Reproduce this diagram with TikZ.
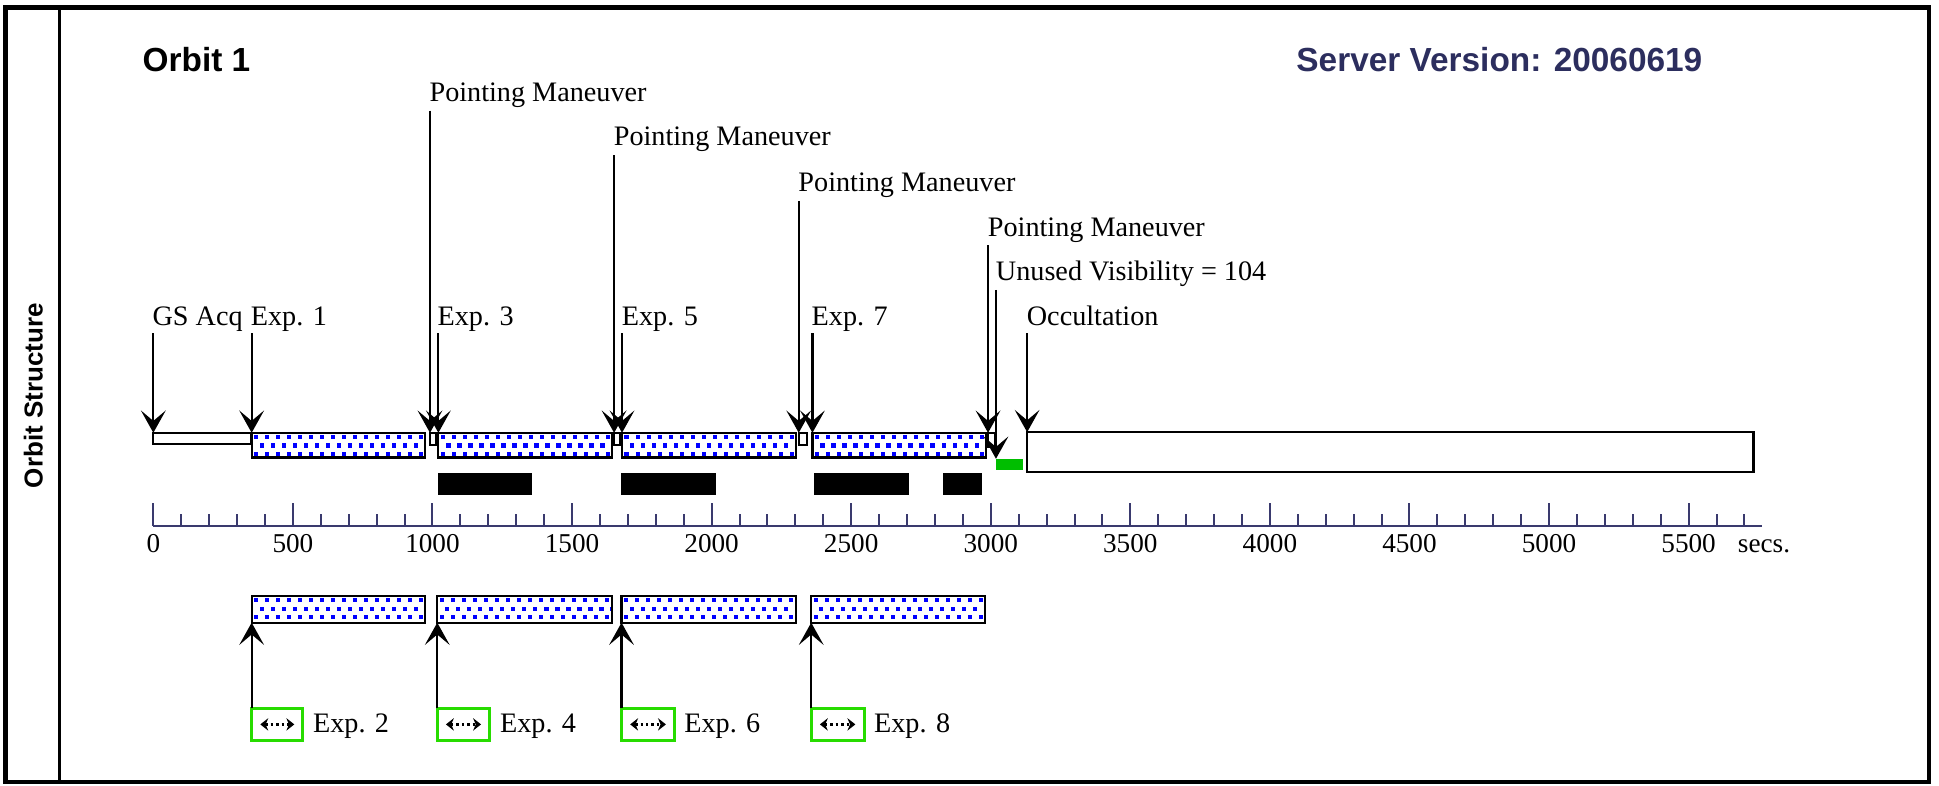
\documentclass[tikz,border=0pt]{standalone}
\usepackage{fontspec}
\setmainfont{Liberation Serif}
\newfontfamily\hsans{Liberation Sans}
\usetikzlibrary{arrows.meta}
\definecolor{navy}{RGB}{44,46,94}
\definecolor{axisc}{RGB}{58,58,110}
\definecolor{barg}{RGB}{0,190,0}
\definecolor{icong}{RGB}{40,220,0}
\newcommand\boxat[6]{\node[#1, minimum width={(#5-#3)*0.5pt}, minimum height={(#6-#4)*0.5pt}] (#2) at (#3,#4) {};}
\tikzset{
  lbl/.style={anchor=base west, inner sep=0pt, font=\fontsize{11.4}{13}\selectfont},
  axlbl/.style={anchor=base, inner sep=0pt, font=\fontsize{11}{13}\selectfont},
  rbox/.style={draw, line width=0.9pt, fill=white, inner sep=0pt, outer sep=0pt, anchor=north west},
  dbox/.style={rbox, path picture={
     \foreach \r/\o in {0/0,1/4.45,2/0}{
       \foreach \k in {0,...,16}{
         \fill[blue] ([xshift={(2+\o+\k*8.9)*0.5pt}, yshift={-(1.8+\r*6.7)*0.5pt}]path picture bounding box.north west) rectangle ++(3.4,3.4);
       }}}},
  bbar/.style={fill=black, inner sep=0pt, outer sep=0pt, anchor=north west},
  gbar/.style={fill=barg, inner sep=0pt, outer sep=0pt, anchor=north west},
  icon/.style={draw=icong, line width=1.2pt, fill=white, inner sep=0pt, outer sep=0pt, anchor=north west},
  arr/.style={line width=0.9pt, -{Stealth[length=9pt,width=10pt,inset=4.2pt]}},
  dblarr/.style={line width=1.2pt, dash pattern=on 1pt off 1.2pt,
     {Stealth[length=3.2pt,width=5pt]}-{Stealth[length=3.2pt,width=5pt]}},
  tick/.style={axisc, line width=0.8pt}
}
\begin{document}
\begin{tikzpicture}[x=0.5pt,y=-0.5pt]
\fill[white] (0,0) rectangle (1568,635);
\useasboundingbox (0,0) rectangle (1568,635);
% frame
\draw[line width=1.7pt] (4.5,6) rectangle (1560,632.5);
\draw[line width=1.2pt] (48,6) -- (48,632.5);
\node[rotate=90, inner sep=0pt, font=\hsans\bfseries\fontsize{10.5}{12}\selectfont] (side) at (27,320) {Orbit Structure};
\node[anchor=base west, inner sep=0pt, font=\hsans\bfseries\fontsize{13.5}{15}\selectfont] (title) at (115,58) {Orbit 1};
\node[anchor=base west, inner sep=0pt, text=navy, font=\hsans\bfseries\fontsize{13.5}{15}\selectfont] (server) at (1048,58) {Server Version: 20060619};

% top row boxes
\boxat{rbox}{gs}{124}{350}{203}{359.3}
\boxat{dbox}{e1}{203.5}{350}{343.7}{370}
\boxat{rbox}{m1}{347.7}{350}{352.3}{360}
\boxat{dbox}{e3}{354.5}{350}{495}{370}
\boxat{rbox}{m2}{496.6}{350}{501.4}{360}
\boxat{dbox}{e5}{503}{350}{643.7}{370}
\boxat{rbox}{m3}{645.9}{350}{652.6}{360}
\boxat{dbox}{e7}{657}{350}{797.3}{370}
\boxat{rbox}{m4}{799}{350}{804.6}{361}
\boxat{gbar}{uv}{805.4}{371}{827.3}{380}
\boxat{rbox}{occ}{830.6}{349.5}{1418}{381.5}

% black bars
\boxat{bbar}{b1}{354}{382.5}{430}{400}
\boxat{bbar}{b2}{502.5}{382.5}{579}{400}
\boxat{bbar}{b3}{658}{382.5}{735}{400}
\boxat{bbar}{b4}{762.5}{382.5}{793.8}{400}

% labels of top row
\node[lbl] (lgs) at (123,263) {GS Acq};
\node[lbl] (le1) at (202.5,263) {Exp. 1};
\node[lbl] (lp1) at (347,82) {Pointing Maneuver};
\node[lbl] (le3) at (353.5,263) {Exp. 3};
\node[lbl] (lp2) at (496,118) {Pointing Maneuver};
\node[lbl] (le5) at (502.5,263) {Exp. 5};
\node[lbl] (lp3) at (645.3,155) {Pointing Maneuver};
\node[lbl] (le7) at (656,263) {Exp. 7};
\node[lbl] (lp4) at (798.5,191) {Pointing Maneuver};
\node[lbl] (luv) at (805,227) {Unused Visibility = 104};
\node[lbl] (loc) at (830,263) {Occultation};

% arrow tails
\coordinate (tgs) at (124,269.5);
\coordinate (te1) at (203.5,269.5);
\coordinate (tp1) at (347.7,89.5);
\coordinate (te3) at (354.5,269.5);
\coordinate (tp2) at (496.6,125.5);
\coordinate (te5) at (503,269.5);
\coordinate (tp3) at (645.9,162.5);
\coordinate (te7) at (657,269.5);
\coordinate (tp4) at (799,198.5);
\coordinate (tuv) at (805.4,234.5);
\coordinate (toc) at (830.6,269.5);
\draw[arr] (tgs) -- (gs.north west);
\draw[arr] (te1) -- (e1.north west);
\draw[arr] (tp1) -- (m1.north west);
\draw[arr] (te3) -- (e3.north west);
\draw[arr] (tp2) -- (m2.north west);
\draw[arr] (te5) -- (e5.north west);
\draw[arr] (tp3) -- (m3.north west);
\draw[arr] (te7) -- (e7.north west);
\draw[arr] (tp4) -- (m4.north west);
\draw[arr] (tuv) -- (uv.north west);
\draw[arr] (toc) -- (occ.north west);

% axis
\draw[tick] (124,425) -- (1425,425);
\foreach \k in {0,...,57}{
  \pgfmathsetmacro\xx{124+22.573*\k}
  \pgfmathtruncatemacro\mm{mod(\k,5)}
  \ifnum\mm=0 \draw[tick] (\xx,425) -- (\xx,407);
  \else \draw[tick] (\xx,425) -- (\xx,415.5); \fi
}
\foreach \v [count=\i from 0] in {0,500,1000,1500,2000,2500,3000,3500,4000,4500,5000,5500}{
  \node[axlbl] (ax\i) at ({124+112.865*\i},447) {\v};
}
\node[anchor=base west, inner sep=0pt, font=\fontsize{11}{13}\selectfont] (secs) at (1405,447) {secs.};

% bottom row
\boxat{dbox}{e2}{203.5}{482}{343.7}{503.5}
\boxat{dbox}{e4}{353.6}{482}{495}{503.5}
\boxat{dbox}{e6}{502.6}{482}{643.7}{503.5}
\boxat{dbox}{e8}{656}{482}{796.7}{503.5}

\boxat{icon}{i2}{203.5}{572.6}{245}{599}
\boxat{icon}{i4}{353.6}{572.6}{396}{599}
\boxat{icon}{i6}{502.6}{572.6}{545.5}{599}
\boxat{icon}{i8}{656}{572.6}{698.7}{599}

\foreach \n in {i2,i4,i6,i8}{
  \draw[dblarr] ([xshift=3.5pt]\n.west) -- ([xshift=-3.5pt]\n.east);
}
\draw[arr] (i2.north west) -- (e2.south west);
\draw[arr] (i4.north west) -- (e4.south west);
\draw[arr] (i6.north west) -- (e6.south west);
\draw[arr] (i8.north west) -- (e8.south west);

\node[lbl] (l2) at (252.8,592) {Exp. 2};
\node[lbl] (l4) at (404,592) {Exp. 4};
\node[lbl] (l6) at (553,592) {Exp. 6};
\node[lbl] (l8) at (706.5,592) {Exp. 8};
\end{tikzpicture}
\end{document}
